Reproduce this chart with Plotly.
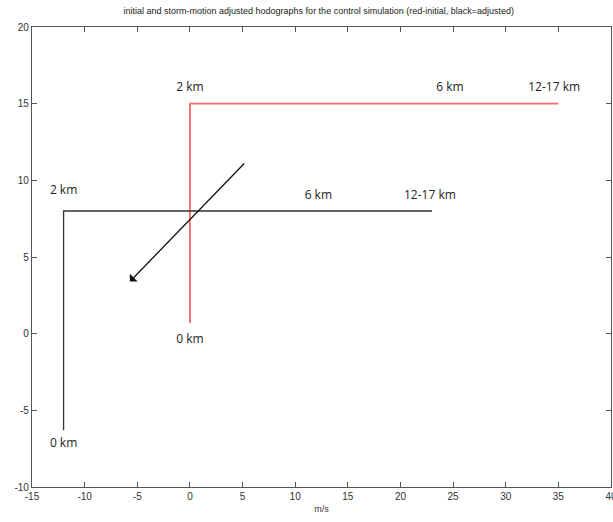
import plotly.graph_objects as go

# Initial hodograph (red): 0 km, 2 km, 12-17 km
init_u = [0, 0, 35]
init_v = [0.7, 15, 15]
# Storm-motion adjusted hodograph (black)
adj_u = [-12, -12, 23]
adj_v = [-6.3, 8, 8]

# Height labels
init_lbl_text = ["0 km", "2 km", "6 km", "12-17 km"]
init_lbl_u = [0, 0, 24.7, 34.6]
init_lbl_v = [-0.4, 16.0, 16.0, 16.0]
adj_lbl_text = ["0 km", "2 km", "6 km", "12-17 km"]
adj_lbl_u = [-12, -12, 12.2, 22.8]
adj_lbl_v = [-7.2, 9.3, 9.0, 9.0]

# Storm motion arrow (tail -> head)
arrow_tail = (5.3, 11.2)
arrow_head = (-5.7, 3.4)

x_ticks = list(range(-15, 41, 5))
y_ticks = list(range(-10, 21, 5))

fig = go.Figure()
fig.add_trace(go.Scatter(x=init_u, y=init_v, mode="lines",
                         line=dict(color="#ff6666", width=1.8), showlegend=False))
fig.add_trace(go.Scatter(x=adj_u, y=adj_v, mode="lines",
                         line=dict(color="#333333", width=1.3), showlegend=False))
fig.add_trace(go.Scatter(x=init_lbl_u, y=init_lbl_v, mode="text", text=init_lbl_text,
                         textfont=dict(family="Open Sans", size=12, color="#222"),
                         showlegend=False))
fig.add_trace(go.Scatter(x=adj_lbl_u, y=adj_lbl_v, mode="text", text=adj_lbl_text,
                         textfont=dict(family="Open Sans", size=12, color="#222"),
                         showlegend=False))

fig.add_annotation(x=arrow_head[0], y=arrow_head[1], ax=arrow_tail[0], ay=arrow_tail[1],
                   xref="x", yref="y", axref="x", ayref="y", text="",
                   showarrow=True, arrowhead=1, arrowsize=1.4, arrowwidth=1.3,
                   arrowcolor="#111")

axis_common = dict(showline=True, linecolor="#555", linewidth=1.2, mirror="ticks",
                   ticks="inside", ticklen=5, tickcolor="#555", showgrid=False,
                   zeroline=False, ticklabeloverflow="allow", automargin=False,
                   tickfont=dict(family="Liberation Sans", size=10, color="#333"))

fig.update_layout(
    width=613, height=522,
    margin=dict(l=32, r=2, t=27, b=35),
    plot_bgcolor="white", paper_bgcolor="white",
    title=dict(text="initial and storm-motion adjusted hodographs for the control simulation (red-initial, black=adjusted)",
               font=dict(family="Liberation Sans", size=9, color="#222"),
               x=0.52, xanchor="center", y=0.979, yanchor="middle"),
    xaxis=dict(range=[-15, 40], tickvals=x_ticks, ticktext=[str(v) for v in x_ticks],
               title=dict(text="m/s", font=dict(family="Liberation Sans", size=9, color="#333"), standoff=4),
               **axis_common),
    yaxis=dict(range=[-10, 20], tickvals=y_ticks, ticktext=[str(v) for v in y_ticks],
               **axis_common),
)

fig.write_html("out.html")
